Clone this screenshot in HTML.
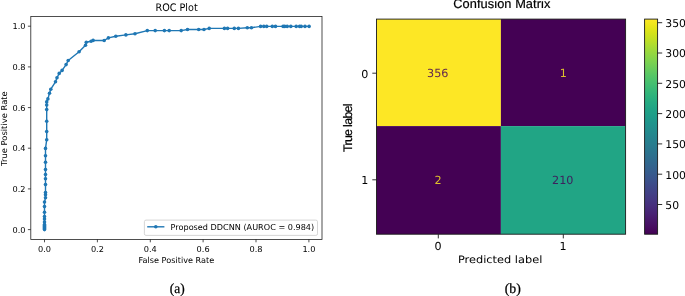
<!DOCTYPE html>
<html lang="en"><head><meta charset="utf-8"><title>ROC Plot and Confusion Matrix</title>
<style>
html,body{margin:0;padding:0;background:#fff;}
body{width:685px;height:296px;overflow:hidden;}
svg{display:block;}
text{text-rendering:geometricPrecision;}
.dv{font-family:"DejaVu Sans","Liberation Sans",sans-serif;fill:#000000;}
.ls{font-family:"Liberation Sans","DejaVu Sans",sans-serif;fill:#000;stroke:#000;stroke-width:0.2px;}
.ser{font-family:"Liberation Serif","DejaVu Serif",serif;fill:#000;stroke:#000;stroke-width:0.25px;}
</style></head><body>
<svg width="685" height="296" viewBox="0 0 685 296">
<defs><linearGradient id="vir" x1="0" y1="1" x2="0" y2="0">
<stop offset="0.0000" stop-color="#440154"/>
<stop offset="0.0323" stop-color="#470d60"/>
<stop offset="0.0645" stop-color="#48186a"/>
<stop offset="0.0968" stop-color="#482374"/>
<stop offset="0.1290" stop-color="#472e7c"/>
<stop offset="0.1613" stop-color="#453882"/>
<stop offset="0.1935" stop-color="#424186"/>
<stop offset="0.2258" stop-color="#3e4a89"/>
<stop offset="0.2581" stop-color="#3a548c"/>
<stop offset="0.2903" stop-color="#365d8d"/>
<stop offset="0.3226" stop-color="#32658e"/>
<stop offset="0.3548" stop-color="#2e6d8e"/>
<stop offset="0.3871" stop-color="#2b758e"/>
<stop offset="0.4194" stop-color="#287d8e"/>
<stop offset="0.4516" stop-color="#25848e"/>
<stop offset="0.4839" stop-color="#228c8d"/>
<stop offset="0.5161" stop-color="#1f948c"/>
<stop offset="0.5484" stop-color="#1e9c89"/>
<stop offset="0.5806" stop-color="#20a386"/>
<stop offset="0.6129" stop-color="#25ab82"/>
<stop offset="0.6452" stop-color="#2eb37c"/>
<stop offset="0.6774" stop-color="#3aba76"/>
<stop offset="0.7097" stop-color="#48c16e"/>
<stop offset="0.7419" stop-color="#58c765"/>
<stop offset="0.7742" stop-color="#6ccd5a"/>
<stop offset="0.8065" stop-color="#7fd34e"/>
<stop offset="0.8387" stop-color="#93d741"/>
<stop offset="0.8710" stop-color="#a8db34"/>
<stop offset="0.9032" stop-color="#c0df25"/>
<stop offset="0.9355" stop-color="#d5e21a"/>
<stop offset="0.9677" stop-color="#eae51a"/>
<stop offset="1.0000" stop-color="#fde725"/>
</linearGradient></defs>
<rect x="0" y="0" width="685" height="296" fill="#ffffff"/>
<g id="roc">
<polyline fill="none" stroke="#1f77b4" stroke-width="1.4" stroke-linejoin="round" points="44.5,229.6 44.5,228.6 44.5,227.6 44.5,226.6 44.5,225.6 44.5,224.6 44.5,222.0 44.5,219.1 44.5,216.6 44.5,212.3 44.5,206.6 44.5,202.0 45.5,197.7 45.5,194.8 45.5,192.6 45.5,184.6 45.5,178.7 45.5,174.5 45.5,169.6 45.5,162.2 45.5,155.8 45.5,148.4 46.7,139.8 46.7,131.6 46.7,121.3 46.7,109.6 46.7,105.0 46.7,101.9 47.9,98.9 49.5,93.2 50.8,89.2 55.5,81.8 57.0,77.7 59.2,73.4 62.1,70.4 66.1,64.6 68.2,60.5 79.1,51.8 85.5,45.3 86.3,42.3 91.1,41.2 93.1,40.4 104.2,40.5 108.4,37.9 115.8,36.3 125.9,34.9 135.0,33.7 147.3,30.6 155.2,30.6 164.4,30.6 169.2,30.6 181.2,30.6 187.5,29.5 198.7,29.5 204.0,29.5 209.2,28.4 224.4,28.4 227.6,28.4 234.3,28.4 238.4,28.4 247.3,27.7 251.4,27.7 260.6,26.4 263.8,26.4 266.7,26.4 272.3,26.4 275.5,26.4 283.1,26.4 284.7,26.4 287.2,26.4 290.8,26.4 296.2,26.4 299.6,26.4 301.2,26.4 305.0,26.4 309.1,26.4"/>
<g fill="#1f77b4">
<circle cx="44.5" cy="229.6" r="1.8"/>
<circle cx="44.5" cy="228.6" r="1.8"/>
<circle cx="44.5" cy="227.6" r="1.8"/>
<circle cx="44.5" cy="226.6" r="1.8"/>
<circle cx="44.5" cy="225.6" r="1.8"/>
<circle cx="44.5" cy="224.6" r="1.8"/>
<circle cx="44.5" cy="222.0" r="1.8"/>
<circle cx="44.5" cy="219.1" r="1.8"/>
<circle cx="44.5" cy="216.6" r="1.8"/>
<circle cx="44.5" cy="212.3" r="1.8"/>
<circle cx="44.5" cy="206.6" r="1.8"/>
<circle cx="44.5" cy="202.0" r="1.8"/>
<circle cx="45.5" cy="197.7" r="1.8"/>
<circle cx="45.5" cy="194.8" r="1.8"/>
<circle cx="45.5" cy="192.6" r="1.8"/>
<circle cx="45.5" cy="184.6" r="1.8"/>
<circle cx="45.5" cy="178.7" r="1.8"/>
<circle cx="45.5" cy="174.5" r="1.8"/>
<circle cx="45.5" cy="169.6" r="1.8"/>
<circle cx="45.5" cy="162.2" r="1.8"/>
<circle cx="45.5" cy="155.8" r="1.8"/>
<circle cx="45.5" cy="148.4" r="1.8"/>
<circle cx="46.7" cy="139.8" r="1.8"/>
<circle cx="46.7" cy="131.6" r="1.8"/>
<circle cx="46.7" cy="121.3" r="1.8"/>
<circle cx="46.7" cy="109.6" r="1.8"/>
<circle cx="46.7" cy="105.0" r="1.8"/>
<circle cx="46.7" cy="101.9" r="1.8"/>
<circle cx="47.9" cy="98.9" r="1.8"/>
<circle cx="49.5" cy="93.2" r="1.8"/>
<circle cx="50.8" cy="89.2" r="1.8"/>
<circle cx="55.5" cy="81.8" r="1.8"/>
<circle cx="57.0" cy="77.7" r="1.8"/>
<circle cx="59.2" cy="73.4" r="1.8"/>
<circle cx="62.1" cy="70.4" r="1.8"/>
<circle cx="66.1" cy="64.6" r="1.8"/>
<circle cx="68.2" cy="60.5" r="1.8"/>
<circle cx="79.1" cy="51.8" r="1.8"/>
<circle cx="85.5" cy="45.3" r="1.8"/>
<circle cx="86.3" cy="42.3" r="1.8"/>
<circle cx="91.1" cy="41.2" r="1.8"/>
<circle cx="93.1" cy="40.4" r="1.8"/>
<circle cx="104.2" cy="40.5" r="1.8"/>
<circle cx="108.4" cy="37.9" r="1.8"/>
<circle cx="115.8" cy="36.3" r="1.8"/>
<circle cx="125.9" cy="34.9" r="1.8"/>
<circle cx="135.0" cy="33.7" r="1.8"/>
<circle cx="147.3" cy="30.6" r="1.8"/>
<circle cx="155.2" cy="30.6" r="1.8"/>
<circle cx="164.4" cy="30.6" r="1.8"/>
<circle cx="169.2" cy="30.6" r="1.8"/>
<circle cx="181.2" cy="30.6" r="1.8"/>
<circle cx="187.5" cy="29.5" r="1.8"/>
<circle cx="198.7" cy="29.5" r="1.8"/>
<circle cx="204.0" cy="29.5" r="1.8"/>
<circle cx="209.2" cy="28.4" r="1.8"/>
<circle cx="224.4" cy="28.4" r="1.8"/>
<circle cx="227.6" cy="28.4" r="1.8"/>
<circle cx="234.3" cy="28.4" r="1.8"/>
<circle cx="238.4" cy="28.4" r="1.8"/>
<circle cx="247.3" cy="27.7" r="1.8"/>
<circle cx="251.4" cy="27.7" r="1.8"/>
<circle cx="260.6" cy="26.4" r="1.8"/>
<circle cx="263.8" cy="26.4" r="1.8"/>
<circle cx="266.7" cy="26.4" r="1.8"/>
<circle cx="272.3" cy="26.4" r="1.8"/>
<circle cx="275.5" cy="26.4" r="1.8"/>
<circle cx="283.1" cy="26.4" r="1.8"/>
<circle cx="284.7" cy="26.4" r="1.8"/>
<circle cx="287.2" cy="26.4" r="1.8"/>
<circle cx="290.8" cy="26.4" r="1.8"/>
<circle cx="296.2" cy="26.4" r="1.8"/>
<circle cx="299.6" cy="26.4" r="1.8"/>
<circle cx="301.2" cy="26.4" r="1.8"/>
<circle cx="305.0" cy="26.4" r="1.8"/>
<circle cx="309.1" cy="26.4" r="1.8"/>
</g>
<rect x="30.8" y="16.4" width="291.2" height="223.0" fill="none" stroke="#222" stroke-width="0.8"/>
<line x1="44.5" y1="239.4" x2="44.5" y2="242.3" stroke="#222" stroke-width="0.8"/>
<line x1="27.9" y1="229.6" x2="30.8" y2="229.6" stroke="#222" stroke-width="0.8"/>
<text class="dv" x="44.5" y="252.4" font-size="8.2" text-anchor="middle">0.0</text>
<text class="dv" x="25.6" y="232.6" font-size="8.2" text-anchor="end">0.0</text>
<line x1="97.4" y1="239.4" x2="97.4" y2="242.3" stroke="#222" stroke-width="0.8"/>
<line x1="27.9" y1="188.9" x2="30.8" y2="188.9" stroke="#222" stroke-width="0.8"/>
<text class="dv" x="97.4" y="252.4" font-size="8.2" text-anchor="middle">0.2</text>
<text class="dv" x="25.6" y="191.9" font-size="8.2" text-anchor="end">0.2</text>
<line x1="150.3" y1="239.4" x2="150.3" y2="242.3" stroke="#222" stroke-width="0.8"/>
<line x1="27.9" y1="148.2" x2="30.8" y2="148.2" stroke="#222" stroke-width="0.8"/>
<text class="dv" x="150.3" y="252.4" font-size="8.2" text-anchor="middle">0.4</text>
<text class="dv" x="25.6" y="151.2" font-size="8.2" text-anchor="end">0.4</text>
<line x1="203.1" y1="239.4" x2="203.1" y2="242.3" stroke="#222" stroke-width="0.8"/>
<line x1="27.9" y1="107.6" x2="30.8" y2="107.6" stroke="#222" stroke-width="0.8"/>
<text class="dv" x="203.1" y="252.4" font-size="8.2" text-anchor="middle">0.6</text>
<text class="dv" x="25.6" y="110.6" font-size="8.2" text-anchor="end">0.6</text>
<line x1="256.0" y1="239.4" x2="256.0" y2="242.3" stroke="#222" stroke-width="0.8"/>
<line x1="27.9" y1="66.9" x2="30.8" y2="66.9" stroke="#222" stroke-width="0.8"/>
<text class="dv" x="256.0" y="252.4" font-size="8.2" text-anchor="middle">0.8</text>
<text class="dv" x="25.6" y="69.9" font-size="8.2" text-anchor="end">0.8</text>
<line x1="308.9" y1="239.4" x2="308.9" y2="242.3" stroke="#222" stroke-width="0.8"/>
<line x1="27.9" y1="26.2" x2="30.8" y2="26.2" stroke="#222" stroke-width="0.8"/>
<text class="dv" x="308.9" y="252.4" font-size="8.2" text-anchor="middle">1.0</text>
<text class="dv" x="25.6" y="29.2" font-size="8.2" text-anchor="end">1.0</text>
<text class="dv" x="176.6" y="10.8" font-size="10.4" text-anchor="middle" textLength="42.2" lengthAdjust="spacingAndGlyphs">ROC Plot</text>
<text class="dv" x="176.4" y="263.2" font-size="8.2" text-anchor="middle" textLength="75.6" lengthAdjust="spacingAndGlyphs">False Positive Rate</text>
<text class="dv" transform="translate(7.2,128.6) rotate(-90)" font-size="8.2" text-anchor="middle" textLength="74.6" lengthAdjust="spacingAndGlyphs">True Positive Rate</text>
<rect x="144.4" y="220.1" width="173.1" height="15.3" rx="1.6" ry="1.6" fill="#ffffff" fill-opacity="0.8" stroke="#cccccc" stroke-width="0.8"/>
<line x1="147.2" y1="226.8" x2="164.4" y2="226.8" stroke="#1f77b4" stroke-width="1.4"/>
<circle cx="155.8" cy="226.8" r="1.8" fill="#1f77b4"/>
<text class="dv" x="170.6" y="229.6" font-size="8.2" textLength="143.6" lengthAdjust="spacingAndGlyphs">Proposed DDCNN (AUROC = 0.984)</text>
<text class="ser" x="177.2" y="293.1" font-size="14" text-anchor="middle" textLength="14.9" lengthAdjust="spacingAndGlyphs">(a)</text>
</g>
<g id="cm">
<rect x="376.5" y="19.1" width="124.4" height="107.0" fill="#fde725"/>
<rect x="500.9" y="19.1" width="124.7" height="107.0" fill="#440154"/>
<rect x="376.5" y="126.1" width="124.4" height="108.1" fill="#440154"/>
<rect x="500.9" y="126.1" width="124.7" height="108.1" fill="#21a585"/>
<rect x="376.5" y="19.1" width="249.1" height="215.1" fill="none" stroke="#1a1a1a" stroke-width="0.9"/>
<text class="dv" x="437.8" y="76.9" font-size="11.2" text-anchor="middle" style="fill:#652b4c">356</text>
<text class="dv" x="563.2" y="76.9" font-size="11.2" text-anchor="middle" style="fill:#dcbe2c">1</text>
<text class="dv" x="438.0" y="183.7" font-size="11.2" text-anchor="middle" style="fill:#dcbe2c">2</text>
<text class="dv" x="562.8" y="183.7" font-size="11.2" text-anchor="middle" style="fill:#3d225e">210</text>
<line x1="438.3" y1="234.2" x2="438.3" y2="238.4" stroke="#1a1a1a" stroke-width="0.9"/>
<text class="dv" x="438.0" y="249.8" font-size="11.1" text-anchor="middle">0</text>
<line x1="563.3" y1="234.2" x2="563.3" y2="238.4" stroke="#1a1a1a" stroke-width="0.9"/>
<text class="dv" x="563.0" y="249.8" font-size="11.1" text-anchor="middle">1</text>
<line x1="372.3" y1="73.2" x2="376.5" y2="73.2" stroke="#1a1a1a" stroke-width="0.9"/>
<text class="dv" x="368.4" y="77.7" font-size="11.1" text-anchor="end">0</text>
<line x1="372.3" y1="179.8" x2="376.5" y2="179.8" stroke="#1a1a1a" stroke-width="0.9"/>
<text class="dv" x="368.4" y="184.3" font-size="11.1" text-anchor="end">1</text>
<text class="dv" x="500.1" y="263.2" font-size="10.2" text-anchor="middle" textLength="84.4" lengthAdjust="spacingAndGlyphs">Predicted label</text>
<text class="ls" transform="translate(351.9,127.7) rotate(-90)" font-size="12.4" text-anchor="middle" textLength="48.6" lengthAdjust="spacing">True label</text>
<text class="ls" x="501.8" y="7.7" font-size="12.8" text-anchor="middle" textLength="97" lengthAdjust="spacing">Confusion Matrix</text>
<rect x="644.6" y="19.1" width="13.0" height="215.1" fill="url(#vir)" stroke="#1a1a1a" stroke-width="0.9"/>
<line x1="657.6" y1="204.5" x2="662.2" y2="204.5" stroke="#1a1a1a" stroke-width="0.9"/>
<text class="dv" x="665.3" y="208.8" font-size="10.8" >50</text>
<line x1="657.6" y1="174.2" x2="662.2" y2="174.2" stroke="#1a1a1a" stroke-width="0.9"/>
<text class="dv" x="665.3" y="178.5" font-size="10.8" >100</text>
<line x1="657.6" y1="143.9" x2="662.2" y2="143.9" stroke="#1a1a1a" stroke-width="0.9"/>
<text class="dv" x="665.3" y="148.2" font-size="10.8" >150</text>
<line x1="657.6" y1="113.6" x2="662.2" y2="113.6" stroke="#1a1a1a" stroke-width="0.9"/>
<text class="dv" x="665.3" y="117.9" font-size="10.8" >200</text>
<line x1="657.6" y1="83.3" x2="662.2" y2="83.3" stroke="#1a1a1a" stroke-width="0.9"/>
<text class="dv" x="665.3" y="87.6" font-size="10.8" >250</text>
<line x1="657.6" y1="53.0" x2="662.2" y2="53.0" stroke="#1a1a1a" stroke-width="0.9"/>
<text class="dv" x="665.3" y="57.3" font-size="10.8" >300</text>
<line x1="657.6" y1="22.7" x2="662.2" y2="22.7" stroke="#1a1a1a" stroke-width="0.9"/>
<text class="dv" x="665.3" y="27.0" font-size="10.8" >350</text>
<text class="ser" x="512.8" y="293.1" font-size="14" text-anchor="middle" textLength="16.1" lengthAdjust="spacingAndGlyphs">(b)</text>
</g>
</svg>
</body></html>
